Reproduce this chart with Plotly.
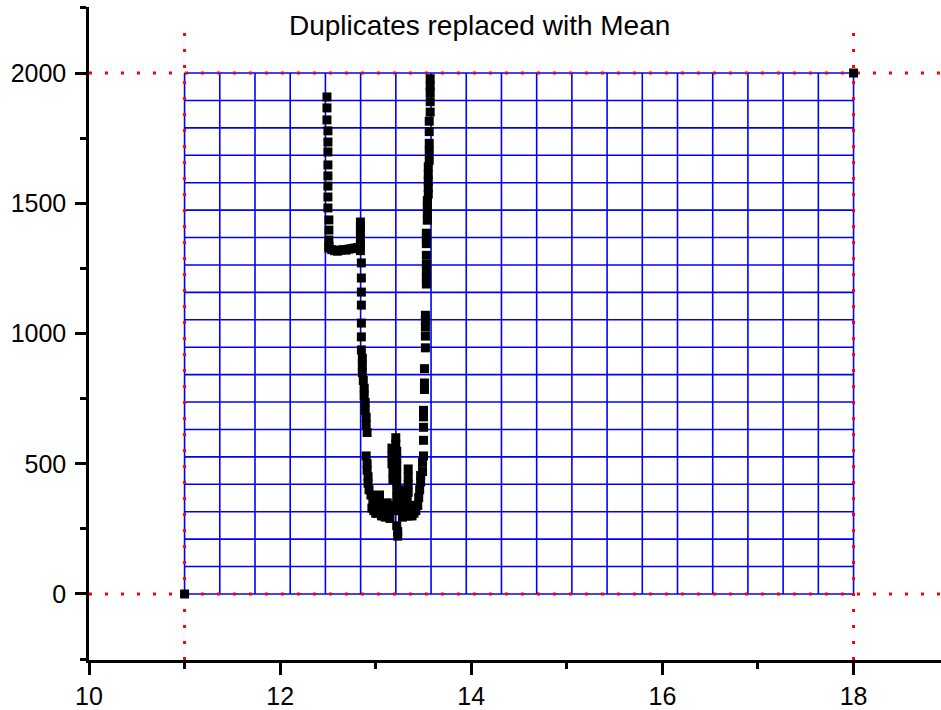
import plotly.graph_objects as go
import numpy as np

# ---------------- data ----------------
corner_x = [11.0, 18.0]
corner_y = [0, 2000]

left_x = [12.49, 12.49, 12.49, 12.50, 12.50, 12.50, 12.50, 12.50, 12.50, 12.50, 12.50, 12.51, 12.51, 12.51, 12.51]
left_y = [1908, 1866, 1820, 1778, 1735, 1697, 1647, 1605, 1566, 1524, 1482, 1436, 1397, 1359, 1328]

plateau_x = [12.51, 12.54, 12.57, 12.60, 12.63, 12.66, 12.69, 12.72, 12.75, 12.78, 12.81]
plateau_y = [1335, 1322, 1318, 1316, 1320, 1322, 1320, 1324, 1326, 1328, 1330]

drop_x = [12.84, 12.84, 12.84, 12.84, 12.84, 12.84, 12.85, 12.85, 12.85, 12.85, 12.85, 12.85, 12.85,
          12.86, 12.86, 12.86, 12.87, 12.88, 12.88, 12.89, 12.89, 12.90, 12.90, 12.91, 12.90]
drop_y = [1428, 1405, 1385, 1362, 1340, 1318, 1271, 1213, 1159, 1109, 1040, 987, 937,
          905, 878, 850, 820, 790, 762, 735, 705, 678, 650, 620, 530]

trough_x = [12.91, 12.91, 12.92, 12.92, 12.93, 12.95, 12.97, 12.99, 13.01, 13.03, 13.05, 13.07, 13.09,
            13.11, 13.13, 13.06, 13.10, 13.15, 13.22, 13.23, 13.23, 13.21, 13.21, 13.22, 13.22,
            13.22, 13.22, 13.22, 13.22, 13.22, 13.22, 13.17, 13.17, 13.17, 13.18, 13.18, 13.34,
            13.34, 13.34, 13.34, 13.33, 13.32, 13.27, 13.27, 13.27, 13.28, 13.28, 13.33, 13.38,
            13.47, 13.47, 13.46, 13.45, 13.44, 13.42, 13.40, 13.38, 12.96, 13.00, 13.04, 13.12,
            12.98, 13.02, 13.06, 13.08, 13.12, 13.14, 13.16, 13.19, 13.25, 13.30, 13.36, 13.40,
            13.43, 13.30, 13.25, 13.36]
trough_y = [500, 475, 450, 425, 400, 380, 360, 345, 335, 350, 330, 345, 325,
            340, 320, 300, 295, 290, 262, 240, 222, 600, 575, 548, 520,
            490, 460, 430, 400, 370, 340, 560, 530, 500, 470, 440, 480,
            450, 420, 390, 360, 330, 400, 370, 340, 315, 295, 300, 300,
            455, 430, 400, 370, 340, 320, 340, 315, 330, 310, 380, 300,
            320, 310, 320, 300, 350, 310, 340, 320, 320, 300, 330, 310,
            340, 350, 360, 300]

right_x = [13.49, 13.49, 13.50, 13.50, 13.50, 13.50, 13.50, 13.51, 13.51, 13.51, 13.52, 13.52, 13.52,
           13.52, 13.52, 13.53, 13.53, 13.53, 13.53, 13.53, 13.53, 13.53, 13.53, 13.54, 13.54,
           13.54, 13.54, 13.55, 13.55, 13.55, 13.55, 13.55, 13.56, 13.56, 13.56, 13.56, 13.56,
           13.57, 13.57, 13.57, 13.57, 13.57]
right_y = [470, 505, 530, 590, 640, 680, 705, 785, 810, 865, 945, 990, 1025,
           1050, 1070, 1190, 1215, 1240, 1265, 1300, 1345, 1365, 1385, 1435, 1460,
           1485, 1510, 1535, 1560, 1585, 1610, 1640, 1665, 1700, 1730, 1775, 1815,
           1850, 1890, 1925, 1950, 1978]

x_ticks = [10, 12, 14, 16, 18]
y_ticks = [0, 500, 1000, 1500, 2000]

title_text = "Duplicates replaced with Mean"

# frame of the blue grid and red guide lines
box_x = [11.0, 18.0]
box_y = [0, 2000]
n_grid = 19
x_range = [10.0, 18.915]
y_range = [-253.4, 2253.4]

# ---------------- build figure ----------------
fig = go.Figure()

# blue grid
gx, gy = [], []
for v in np.linspace(box_x[0], box_x[1], n_grid + 1):
    gx += [v, v, None]
    gy += [box_y[0], box_y[1], None]
for v in np.linspace(box_y[0], box_y[1], n_grid + 1):
    gx += [box_x[0], box_x[1], None]
    gy += [v, v, None]
fig.add_trace(go.Scatter(x=gx, y=gy, mode="lines",
                         line=dict(color="#0000FF", width=1.6),
                         hoverinfo="skip", showlegend=False))

# red dotted guide lines
rx, ry = [], []
for v in box_x:
    rx += [v, v, None]
    ry += [y_range[0], 2200, None]
for v in box_y:
    rx += [x_range[0], x_range[1], None]
    ry += [v, v, None]
fig.add_trace(go.Scatter(x=rx, y=ry, mode="lines",
                         line=dict(color="#FF0000", width=3, dash="3px,13px"),
                         hoverinfo="skip", showlegend=False))

# data points
all_x = corner_x + left_x + plateau_x + drop_x + trough_x + right_x
all_y = corner_y + left_y + plateau_y + drop_y + trough_y + right_y
fig.add_trace(go.Scatter(x=all_x, y=all_y, mode="markers",
                         marker=dict(symbol="square", size=9, color="black",
                                     line=dict(width=0)),
                         showlegend=False))

axis_font = dict(family="Liberation Sans, Arial, sans-serif", size=25, color="black")

fig.update_xaxes(range=x_range, tickvals=x_ticks, showgrid=False, zeroline=False,
                 automargin=False,
                 showline=True, linecolor="black", linewidth=2.5,
                 ticks="outside", ticklen=12, tickwidth=2.5, tickcolor="black",
                 tickfont=axis_font,
                 minor=dict(dtick=1, tick0=10, ticks="outside", ticklen=6,
                            tickwidth=2.5, tickcolor="black", showgrid=False))
fig.update_yaxes(range=y_range, tickvals=y_ticks, showgrid=False, zeroline=False,
                 automargin=False, ticklabelstandoff=4,
                 showline=True, linecolor="black", linewidth=2.5,
                 ticks="outside", ticklen=11, tickwidth=2.5, tickcolor="black",
                 tickfont=axis_font,
                 minor=dict(dtick=250, tick0=0, ticks="outside", ticklen=6,
                            tickwidth=2.5, tickcolor="black", showgrid=False))

fig.add_annotation(text=title_text, xref="paper", yref="paper",
                   x=(479 - 89) / 852, y=(660 - 25) / 653,
                   xanchor="center", yanchor="middle", showarrow=False,
                   font=dict(family="Liberation Sans, Arial, sans-serif", size=28, color="black"))

fig.update_layout(width=941, height=710,
                  margin=dict(l=89, r=0, t=7, b=50, autoexpand=False),
                  plot_bgcolor="white", paper_bgcolor="white")

fig.write_html("out.html", config={"displayModeBar": False},
               post_script="document.body.style.margin='0px';document.body.style.overflow='hidden';")
